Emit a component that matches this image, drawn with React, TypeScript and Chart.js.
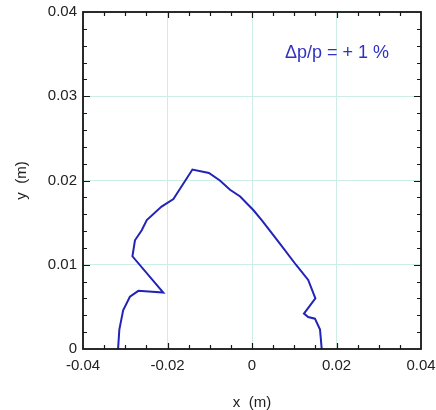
import React, { useEffect, useRef } from "react";
import { Chart, registerables } from "chart.js";

Chart.register(...registerables);

// Beam envelope (x, y) in metres, Δp/p = +1 %
const xValues = [
  -0.0317, -0.0314, -0.0305, -0.0289, -0.0269, -0.021, -0.0283, -0.0277, -0.0261,
  -0.0249, -0.0214, -0.0186, -0.0141, -0.0102, -0.0076, -0.0052, -0.0028, 0.0003,
  0.0023, 0.0066, 0.0104, 0.0133, 0.015, 0.0123, 0.0133, 0.0149, 0.0161, 0.0165,
];
const yValues = [
  0, 0.0023, 0.0046, 0.0062, 0.0069, 0.0067, 0.011, 0.0129, 0.0141, 0.0153, 0.0169,
  0.0178, 0.0213, 0.0209, 0.02, 0.0189, 0.0181, 0.0165, 0.0153, 0.0125, 0.01, 0.0082,
  0.006, 0.0042, 0.0038, 0.0036, 0.0023, 0,
];

const xRange = [-0.04, 0.04];
const yRange = [0, 0.04];
const xMajorStep = 0.02;
const yMajorStep = 0.01;
const xMinorStep = 0.005;
const yMinorStep = 0.002;

const annotationText = "Δp/p = + 1 %";
const annotationAt = [0.0078, 0.0351];
const xTitle = "x  (m)";
const yTitle = "y  (m)";

const FONT = "'Liberation Sans', Arial, Helvetica, sans-serif";
const LINE_COLOR = "#2323b8";
const GRID_COLOR = "#cdeee6";

const fmt = (v: number) => {
  const n = Number(Number(v).toFixed(3));
  return n === 0 ? "0" : String(n);
};

const framePlugin = {
  id: "frameTicks",
  afterDraw(chart: any) {
    const { ctx, chartArea, scales } = chart;
    const xs = scales.x;
    const ys = scales.y;
    const { left, right, top, bottom } = chartArea;
    ctx.save();
    ctx.strokeStyle = "#161616";
    ctx.lineWidth = 1.2;
    ctx.beginPath();
    const nx = Math.round((xRange[1] - xRange[0]) / xMinorStep);
    for (let i = 1; i < nx; i++) {
      const v = xRange[0] + i * xMinorStep;
      const major = Math.abs(v / xMajorStep - Math.round(v / xMajorStep)) < 1e-6;
      const len = major ? 6 : 4;
      const px = Math.round(xs.getPixelForValue(v)) + 0.5;
      ctx.moveTo(px, bottom);
      ctx.lineTo(px, bottom - len);
      ctx.moveTo(px, top);
      ctx.lineTo(px, top + len);
    }
    const ny = Math.round((yRange[1] - yRange[0]) / yMinorStep);
    for (let i = 1; i < ny; i++) {
      const v = yRange[0] + i * yMinorStep;
      const major = Math.abs(v / yMajorStep - Math.round(v / yMajorStep)) < 1e-6;
      const len = major ? 7 : 4;
      const py = Math.round(ys.getPixelForValue(v)) + 0.5;
      ctx.moveTo(left, py);
      ctx.lineTo(left + len, py);
      ctx.moveTo(right, py);
      ctx.lineTo(right - len, py);
    }
    ctx.stroke();
    ctx.lineWidth = 1.8;
    ctx.strokeRect(left, top, right - left, bottom - top);

    ctx.fillStyle = "#3030c4";
    ctx.font = `18px ${FONT}`;
    ctx.textAlign = "left";
    ctx.textBaseline = "middle";
    ctx.fillText(
      annotationText,
      xs.getPixelForValue(annotationAt[0]),
      ys.getPixelForValue(annotationAt[1])
    );
    ctx.restore();
  },
};

export default function App() {
  const ref = useRef<HTMLCanvasElement | null>(null);

  useEffect(() => {
    if (!ref.current) return;
    const points = xValues.map((x, i) => ({ x, y: yValues[i] }));
    const chart = new Chart(ref.current, {
      type: "scatter",
      data: {
        datasets: [
          {
            data: points,
            showLine: true,
            borderColor: LINE_COLOR,
            backgroundColor: LINE_COLOR,
            borderWidth: 2,
            pointRadius: 0,
            tension: 0,
          },
        ],
      },
      options: {
        animation: false,
        responsive: false,
        devicePixelRatio: 1,
        layout: { padding: { top: 12, right: 15, bottom: 0, left: 0 } },
        plugins: {
          legend: { display: false },
          tooltip: { enabled: false },
        },
        scales: {
          x: {
            type: "linear",
            min: xRange[0],
            max: xRange[1],
            afterFit: (s: any) => {
              s.height = 61;
              s.paddingLeft = 0;
              s.paddingRight = 0;
            },
            ticks: {
              stepSize: xMajorStep,
              padding: 8,
              color: "#222",
              font: { family: FONT, size: 15 },
              callback: (v: any) => fmt(v),
              maxRotation: 0,
            },
            grid: { color: GRID_COLOR, lineWidth: 1, drawTicks: false },
            border: { display: false },
            title: {
              display: true,
              text: xTitle,
              color: "#222",
              font: { family: FONT, size: 15, lineHeight: 1 },
              padding: { top: 0, bottom: 0 },
            },
          },
          y: {
            type: "linear",
            min: yRange[0],
            max: yRange[1],
            afterFit: (s: any) => {
              s.width = 83;
              s.paddingTop = 0;
              s.paddingBottom = 0;
            },
            ticks: {
              stepSize: yMajorStep,
              padding: 6,
              color: "#222",
              font: { family: FONT, size: 15 },
              callback: (v: any) => fmt(v),
            },
            grid: { color: GRID_COLOR, lineWidth: 1, drawTicks: false },
            border: { display: false },
            title: {
              display: true,
              text: yTitle,
              color: "#222",
              font: { family: FONT, size: 15, lineHeight: 1 },
              padding: { top: 14, bottom: 0 },
            },
          },
        },
      },
      plugins: [framePlugin],
    } as any);
    return () => chart.destroy();
  }, []);

  return (
    <div style={{ position: "absolute", left: 0, top: 0, width: 436, height: 410, background: "#fff" }}>
      <canvas ref={ref} width={436} height={410} />
    </div>
  );
}
